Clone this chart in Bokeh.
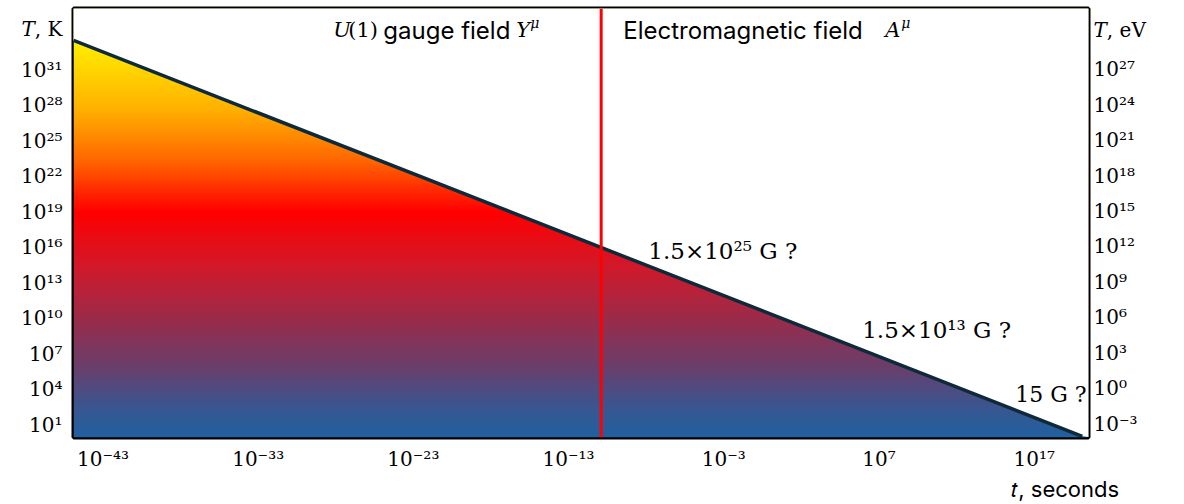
import numpy as np
from bokeh.plotting import figure
from bokeh.models import Range1d, LinearAxis, Label, FixedTicker, Span
from bokeh.embed import file_html
from bokeh.resources import INLINE

# ---------------- data (log10 values) ----------------
time_exp = [-44.9, 20.1]          # log10(t / s) at the ends of the cooling line
temp_exp = [33.5, 0.0]            # log10(T / K) at the same points
transition_exp = -10.9            # log10(t / s) of the U(1) -> EM transition
x_ticks = [-43, -33, -23, -13, -3, 7, 17]
tK_ticks = [1, 4, 7, 10, 13, 16, 19, 22, 25, 28, 31]
teV_ticks = [-3, 0, 3, 6, 9, 12, 15, 18, 21, 24, 27]
K_PER_EV_EXP = float(np.log10(11604.5))

field_text = ["1.5×10²⁵ G ?", "1.5×10¹³ G ?", "15 G ?"]
field_x = [-7.86, 5.92, 15.78]
field_y = [15.7, 9.0, 3.5]
field_size = [23, 23, 22]

# axis-title positions (in axis units)
TK_TITLE_Y = 34.5
TEV_TITLE_Y = 34.35 - K_PER_EV_EXP
T_TITLE_X = 19.0

X_LO, X_HI = -44.9, 20.5
Y_LO, Y_HI = -0.1, 36.2

SUP = str.maketrans("0123456789-", "⁰¹²³⁴⁵⁶⁷⁸⁹⁻")
def pow10(n):
    return "10" + str(n).translate(SUP)

SERIF = "DejaVu Serif"
SANS = "Inter"

p = figure(width=1184, height=504, x_range=Range1d(X_LO, X_HI), y_range=Range1d(Y_LO, Y_HI),
           output_backend="svg", toolbar_location=None,
           min_border_left=73, min_border_right=96, min_border_top=8, min_border_bottom=63)
p.grid.visible = False
p.outline_line_color = "black"
p.outline_line_width = 4
p.background_fill_color = "white"

# ---------- gradient fill below the cooling line ----------
stop_y = [Y_HI, 33.5, 27.6, 23.5, 19.0, 14.2, 10.0, 5.85, 2.5, 0.0, Y_LO]
stop_c = ["#FFF200", "#FFF000", "#FFB000", "#FF6A00", "#FF0000", "#D01A2C",
          "#9C2B4A", "#6A3F6C", "#3B5690", "#2260A0", "#2260A0"]
def hex2rgb(h):
    return [int(h[i:i + 2], 16) for i in (1, 3, 5)]
rgb = np.array([hex2rgb(c) for c in stop_c], dtype=float)
N = 440
ys = np.linspace(Y_LO, Y_HI, N)
sy = np.array(stop_y)[::-1]
srgb = rgb[::-1]
img = np.zeros((N, 2), dtype=np.uint32)
view = img.view(dtype=np.uint8).reshape((N, 2, 4))
for k in range(3):
    col = np.interp(ys, sy, srgb[:, k])
    view[:, :, k] = col.astype(np.uint8)[:, None]
view[:, :, 3] = 255
p.image_rgba(image=[img], x=X_LO, y=Y_LO, dw=X_HI - X_LO, dh=Y_HI - Y_LO)

# white region above the line
p.patch(x=[X_LO - 1, X_LO - 1, time_exp[0], time_exp[1], X_HI + 1, X_HI + 1],
        y=[Y_HI + 1, temp_exp[0], temp_exp[0], temp_exp[1], temp_exp[1] - 0.2, Y_HI + 1],
        fill_color="white", line_color=None)

p.line(time_exp, temp_exp, line_color="#0E2A3A", line_width=3.5)

p.add_layout(Span(location=transition_exp, dimension="height", line_color="#FF0000", line_width=3))

# ---------- axes ----------
def style_axis(ax, font=SERIF, size="20px", standoff=8):
    ax.axis_line_color = None
    ax.major_tick_line_color = None
    ax.minor_tick_line_color = None
    ax.major_tick_out = 0
    ax.major_tick_in = 0
    ax.minor_tick_out = 0
    ax.minor_tick_in = 0
    ax.major_label_standoff = standoff
    ax.major_label_text_font = font
    ax.major_label_text_font_size = size
    ax.major_label_text_color = "black"

p.xaxis.ticker = FixedTicker(ticks=x_ticks)
p.xaxis.major_label_overrides = {t: pow10(t) for t in x_ticks}
style_axis(p.xaxis[0], standoff=9)

p.yaxis.ticker = FixedTicker(ticks=tK_ticks + [TK_TITLE_Y])
ov = {t: pow10(t) for t in tK_ticks}
ov[TK_TITLE_Y] = "𝑇, K"
p.yaxis.major_label_overrides = ov
style_axis(p.yaxis[0], standoff=11)

p.extra_y_ranges = {"eV": Range1d(Y_LO - K_PER_EV_EXP, Y_HI - K_PER_EV_EXP)}
rax = LinearAxis(y_range_name="eV", ticker=FixedTicker(ticks=teV_ticks + [TEV_TITLE_Y]))
ov = {t: pow10(t) for t in teV_ticks}
ov[TEV_TITLE_Y] = "𝑇, eV"
rax.major_label_overrides = ov
style_axis(rax, standoff=5)
p.add_layout(rax, "right")

tax = LinearAxis(ticker=FixedTicker(ticks=[T_TITLE_X]))
tax.major_label_overrides = {T_TITLE_X: "𝑡, seconds"}
style_axis(tax, font=SANS, size="22px", standoff=2)
p.add_layout(tax, "below")

# ---------- texts ----------
def lab(x, y, text, dx=0, dy=0, font=SANS, size=20, style="normal"):
    p.add_layout(Label(x=x, y=y, text=text, x_offset=dx, y_offset=dy, text_font=font,
                       text_font_size=f"{size}px", text_font_style=style, text_color="black",
                       text_baseline="middle", text_align="left"))

for t, x, y, s in zip(field_text, field_x, field_y, field_size):
    lab(x, y, t, font=SERIF, size=s)

# top labels
lab(-28.16, 34.35, "U", font=SERIF, style="italic", size=21)
lab(-28.16, 34.35, "(1)", dx=15, font=SERIF, size=21)
lab(-28.16, 34.35, "gauge field", dx=50, size=24)
lab(-28.16, 34.35, "Y", dx=183, font=SERIF, style="italic", size=21)
lab(-28.16, 34.35, "μ", dx=197, dy=7, font=SERIF, style="italic", size=14)

lab(-9.48, 34.35, "Electromagnetic field", size=24)
lab(-9.48, 34.35, "A", dx=262, font=SERIF, style="italic", size=21)
lab(-9.48, 34.35, "μ", dx=278, dy=7, font=SERIF, style="italic", size=14)

open("out.html", "w").write(file_html(p, INLINE))
